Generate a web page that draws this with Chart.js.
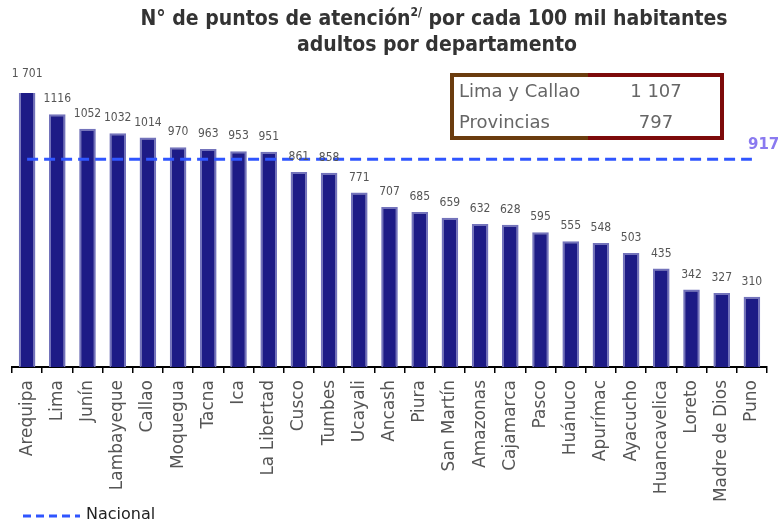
<!DOCTYPE html>
<html>
<head>
<meta charset="utf-8">
<script src="https://cdn.jsdelivr.net/npm/chart.js@4.4.0/dist/chart.umd.min.js"></script>
<style>
  body { margin: 0; background: #fff; }
  #wrap { width: 782px; height: 528px; position: relative; }
</style>
</head>
<body>
<div id="wrap"><canvas id="chart"></canvas></div>
<script>
var departamentos = ['Arequipa', 'Lima', 'Junín', 'Lambayeque', 'Callao', 'Moquegua', 'Tacna', 'Ica',
    'La Libertad', 'Cusco', 'Tumbes', 'Ucayali', 'Ancash', 'Piura', 'San Martín', 'Amazonas',
    'Cajamarca', 'Pasco', 'Huánuco', 'Apurímac', 'Ayacucho', 'Huancavelica', 'Loreto',
    'Madre de Dios', 'Puno'];
var puntos = [1701, 1116, 1052, 1032, 1014, 970, 963, 953, 951, 861, 858, 771, 707, 685, 659,
    632, 628, 595, 555, 548, 503, 435, 342, 327, 310];
var etiquetas = ['1 701', '1116', '1052', '1032', '1014', '970', '963', '953', '951', '861', '858',
    '771', '707', '685', '659', '632', '628', '595', '555', '548', '503', '435', '342', '327', '310'];
var nacional = 917;
var resumen = [['Lima y Callao', '1 107'], ['Provincias', '797']];

// the picture cuts the Arequipa bar, so the scale stops short of it
var yMax = 1210;

var extras = {
    id: 'extras',
    afterDatasetsDraw: function(chart) {
        var ctx = chart.ctx;
        var meta = chart.getDatasetMeta(1);
        ctx.save();
        ctx.font = '12px "DejaVu Sans Condensed"';
        ctx.fillStyle = '#555';
        ctx.textAlign = 'center';
        ctx.textBaseline = 'bottom';
        meta.data.forEach(function(bar, i) {
            var top = Math.max(bar.y, chart.chartArea.top);
            var lift = i === 0 ? 13 : 9;
            ctx.fillText(etiquetas[i], bar.x, top - lift);
        });

        // nacional value at the right end
        var yN = chart.scales.y.getPixelForValue(nacional);
        ctx.font = 'bold 15px "DejaVu Sans"';
        ctx.fillStyle = '#8a7af0';
        ctx.textAlign = 'left';
        ctx.fillText(String(nacional), 748, yN - 7);
        ctx.restore();
    },
    afterDraw: function(chart) {
        var ctx = chart.ctx;
        ctx.save();
        // title
        var big = 'bold 21px "DejaVu Sans Condensed"';
        var small = 'bold 12px "DejaVu Sans Condensed"';
        ctx.fillStyle = '#333';
        ctx.textBaseline = 'middle';
        var a = 'N° de puntos de atención';
        var b = ' por cada 100 mil habitantes';
        var sup = '2/';
        ctx.font = big;
        var wa = ctx.measureText(a).width, wb = ctx.measureText(b).width;
        ctx.font = small;
        var ws = ctx.measureText(sup).width;
        var x0 = 434 - (wa + ws + wb) / 2;
        ctx.textAlign = 'left';
        ctx.font = big;
        ctx.fillText(a, x0, 20);
        ctx.font = small;
        ctx.fillText(sup, x0 + wa, 13);
        ctx.font = big;
        ctx.fillText(b, x0 + wa + ws, 20);
        ctx.textAlign = 'center';
        ctx.fillText('adultos por departamento', 437, 46);

        // summary box
        var bx = 452, by = 75, bw = 270, bh = 63, mid = 588;
        ctx.lineWidth = 4;
        ctx.strokeStyle = '#6b3c0e';
        ctx.beginPath();
        ctx.moveTo(mid, by); ctx.lineTo(bx, by); ctx.lineTo(bx, by + bh); ctx.lineTo(mid, by + bh);
        ctx.stroke();
        ctx.strokeStyle = '#7d0a0a';
        ctx.beginPath();
        ctx.moveTo(mid, by); ctx.lineTo(bx + bw, by); ctx.lineTo(bx + bw, by + bh); ctx.lineTo(mid, by + bh);
        ctx.stroke();
        ctx.font = '18px "DejaVu Sans"';
        ctx.fillStyle = '#666';
        resumen.forEach(function(r, i) {
            var ty = by + 17 + i * 31;
            ctx.textAlign = 'left';
            ctx.fillText(r[0], 459, ty);
            ctx.textAlign = 'center';
            ctx.fillText(r[1], 656, ty);
        });

        // legend
        ctx.strokeStyle = '#2f55ff';
        ctx.lineWidth = 3;
        ctx.setLineDash([8, 5]);
        ctx.beginPath();
        ctx.moveTo(23, 516); ctx.lineTo(80, 516);
        ctx.stroke();
        ctx.setLineDash([]);
        ctx.font = '16px "DejaVu Sans"';
        ctx.fillStyle = '#222';
        ctx.textAlign = 'left';
        ctx.fillText('Nacional', 86, 515);
        ctx.restore();
    }
};

new Chart(document.getElementById('chart'), {
    type: 'bar',
    data: {
        labels: departamentos,
        datasets: [{
            type: 'line',
            label: 'Nacional',
            data: departamentos.map(function() { return nacional; }),
            borderColor: '#2f55ff',
            borderWidth: 3,
            borderDash: [11, 6],
            pointRadius: 0,
            fill: false,
            order: 0
        }, {
            label: 'Puntos de atención',
            data: puntos,
            backgroundColor: '#1d1b86',
            borderColor: '#7373bb',
            borderWidth: 2,
            barPercentage: 0.55,
            categoryPercentage: 1,
            order: 1
        }]
    },
    options: {
        responsive: true,
        maintainAspectRatio: false,
        animation: false,
        layout: { padding: { top: 93, left: 12, right: 15, bottom: 0 } },
        plugins: {
            legend: { display: false },
            title: { display: false },
            tooltip: { enabled: false }
        },
        scales: {
            x: {
                afterFit: function(scale) { scale.height = 161; },
                grid: { drawOnChartArea: false, tickLength: 6, color: '#000', lineWidth: 1.5 },
                border: { color: '#000', width: 2 },
                ticks: {
                    minRotation: 90,
                    maxRotation: 90,
                    color: '#555',
                    font: { size: 17, family: 'DejaVu Sans' },
                    padding: 7
                }
            },
            y: {
                display: false,
                min: 0,
                max: yMax
            }
        }
    },
    plugins: [extras]
});
</script>
</body>
</html>
